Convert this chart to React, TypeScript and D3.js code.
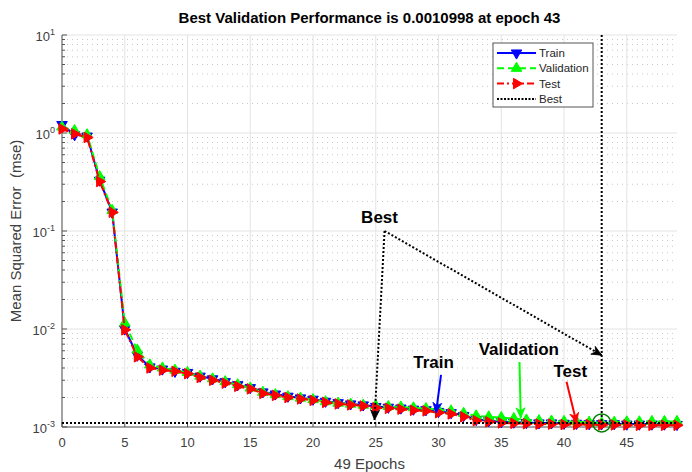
import React, { useRef, useEffect } from 'react'
import * as d3 from 'd3'

const epochs = d3.range(0, 50)

const trainPerf = [
  1.22, 0.96, 0.93, 0.33, 0.156, 0.0100, 0.0054, 0.0041, 0.0039, 0.0037,
  0.0036, 0.0033, 0.0031, 0.0029, 0.0027, 0.00252, 0.00228, 0.00217, 0.00206, 0.00198,
  0.00192, 0.00183, 0.00177, 0.00172, 0.00168, 0.00162, 0.00159, 0.00156, 0.00152, 0.00150,
  0.00144, 0.00140, 0.00131, 0.00119, 0.00116, 0.00113, 0.00112, 0.00111, 0.00110, 0.00110,
  0.00109, 0.00109, 0.00108, 0.00108, 0.00108, 0.00107, 0.00107, 0.00107, 0.00107, 0.00106,
]
const valPerf = [
  1.15, 1.06, 0.96, 0.36, 0.162, 0.0115, 0.0061, 0.0043, 0.0040, 0.0038,
  0.0036, 0.0033, 0.0031, 0.0029, 0.0027, 0.00250, 0.00226, 0.00214, 0.00204, 0.00197,
  0.00190, 0.00181, 0.00175, 0.00171, 0.00167, 0.00165, 0.00162, 0.00160, 0.00157, 0.00154,
  0.00150, 0.00146, 0.00138, 0.00130, 0.00127, 0.00125, 0.00122, 0.00118, 0.00116, 0.00115,
  0.00114, 0.00113, 0.00112, 0.0010998, 0.00112, 0.00113, 0.00113, 0.00114, 0.00114, 0.00114,
]
const testPerf = [
  1.10, 0.98, 0.90, 0.32, 0.155, 0.0098, 0.0052, 0.0040, 0.0038, 0.0037,
  0.0035, 0.0032, 0.0030, 0.0028, 0.0026, 0.00245, 0.00220, 0.00210, 0.00200, 0.00193,
  0.00187, 0.00178, 0.00172, 0.00168, 0.00164, 0.00157, 0.00155, 0.00152, 0.00148, 0.00146,
  0.00140, 0.00136, 0.00127, 0.00116, 0.00113, 0.00110, 0.00109, 0.00108, 0.00107, 0.00107,
  0.00106, 0.00106, 0.00106, 0.00105, 0.00105, 0.00105, 0.00104, 0.00104, 0.00104, 0.00104,
]

const bestEpoch = 43
const bestPerf = 0.0010998
const xTicks = [0, 5, 10, 15, 20, 25, 30, 35, 40, 45]
const yTicks = [1e-3, 1e-2, 1e-1, 1e0, 1e1]
const yExponents = ['-3', '-2', '-1', '0', '1']

const seriesNames = ['Train', 'Validation', 'Test']
const seriesValues = [trainPerf, valPerf, testPerf]

// annotation arrows in data coords: [x0, y0, x1, y1]
const bestArrows = [
  [25.7, 0.1, 24.9, 0.00118],
  [25.7, 0.1, 43.0, 0.0054],
]
const labelArrows = [
  { text: 'Train', tx: 29.6, ty: 0.0040, from: [30.2, 0.0034], to: [29.8, 0.00140], color: '#0000ff' },
  { text: 'Validation', tx: 36.4, ty: 0.0054, from: [36.45, 0.0046], to: [36.55, 0.00124], color: '#00ff00' },
  { text: 'Test', tx: 40.5, ty: 0.0032, from: [40.2, 0.0029], to: [41.0, 0.00110], color: '#ff0000' },
]

const App = () => {
  const visEl = useRef(null)
  const width = 692
  const height = 472

  useEffect(() => {
    const root = d3.select(visEl.current)
    root.selectAll('*').remove()
    const svg = root.append('svg')
      .attr('width', width)
      .attr('height', height)
      .style('position', 'absolute')
      .style('left', 0)
      .style('top', 0)
      .style('background', '#fff')
      .style('font-family', 'Liberation Sans, Arial, sans-serif')

    const margin = { top: 35, right: 15, bottom: 45, left: 62 }
    const innerWidth = width - margin.left - margin.right
    const innerHeight = height - margin.top - margin.bottom

    const xScale = d3.scaleLinear().domain([0, 49]).range([0, innerWidth])
    const yScale = d3.scaleLog().domain([1e-3, 1e1]).range([innerHeight, 0])

    const g = svg.append('g').attr('transform', `translate(${margin.left},${margin.top})`)

    // minor grid (dotted)
    const minor = []
    for (let e = -3; e < 1; e++) for (let k = 2; k <= 9; k++) minor.push(k * Math.pow(10, e))
    g.selectAll('.minor-grid').data(minor).enter().append('line')
      .attr('x1', 0).attr('x2', innerWidth)
      .attr('y1', d => yScale(d)).attr('y2', d => yScale(d))
      .attr('stroke', '#c8c8c8').attr('stroke-width', 1).attr('stroke-dasharray', '1,4')

    // major grid
    g.selectAll('.xgrid').data(xTicks).enter().append('line')
      .attr('x1', d => xScale(d)).attr('x2', d => xScale(d))
      .attr('y1', 0).attr('y2', innerHeight)
      .attr('stroke', '#e3e3e3')
    g.selectAll('.ygrid').data(yTicks).enter().append('line')
      .attr('x1', 0).attr('x2', innerWidth)
      .attr('y1', d => yScale(d)).attr('y2', d => yScale(d))
      .attr('stroke', '#e3e3e3')

    // axes
    const axisColor = '#555'
    g.append('line').attr('x1', 0).attr('x2', innerWidth).attr('y1', innerHeight).attr('y2', innerHeight)
      .attr('stroke', axisColor)
    g.append('line').attr('x1', 0).attr('x2', 0).attr('y1', 0).attr('y2', innerHeight)
      .attr('stroke', axisColor)
    g.selectAll('.xtick').data(xTicks).enter().append('line')
      .attr('x1', d => xScale(d)).attr('x2', d => xScale(d))
      .attr('y1', innerHeight).attr('y2', innerHeight - 5).attr('stroke', axisColor)
    g.selectAll('.ytick').data(yTicks).enter().append('line')
      .attr('x1', 0).attr('x2', 5)
      .attr('y1', d => yScale(d)).attr('y2', d => yScale(d)).attr('stroke', axisColor)
    g.selectAll('.yminortick').data(minor).enter().append('line')
      .attr('x1', 0).attr('x2', 3)
      .attr('y1', d => yScale(d)).attr('y2', d => yScale(d)).attr('stroke', axisColor)

    g.selectAll('.xlabel').data(xTicks).enter().append('text')
      .attr('x', d => xScale(d)).attr('y', innerHeight + 20)
      .attr('text-anchor', 'middle').attr('font-size', 13).attr('fill', '#404040')
      .text(d => d)
    const yl = g.selectAll('.ylabel').data(yTicks).enter().append('text')
      .attr('x', -7).attr('y', d => yScale(d) + 6)
      .attr('text-anchor', 'end').attr('font-size', 13).attr('fill', '#404040')
    yl.append('tspan').text('10')
    yl.append('tspan').attr('dy', -6).attr('font-size', 9).text((d, i) => yExponents[i])

    g.append('text')
      .attr('x', innerWidth / 2).attr('y', innerHeight + 42)
      .attr('text-anchor', 'middle').attr('font-size', 15).attr('fill', '#404040')
      .text('49 Epochs')
    g.append('text')
      .attr('transform', `translate(${-41},${innerHeight / 2}) rotate(-90)`)
      .attr('text-anchor', 'middle').attr('font-size', 15).attr('fill', '#404040')
      .style('white-space', 'pre')
      .text('Mean Squared Error  (mse)')
    g.append('text')
      .attr('x', innerWidth / 2).attr('y', -12)
      .attr('text-anchor', 'middle').attr('font-size', 15).attr('font-weight', 'bold').attr('fill', '#000')
      .text(`Best Validation Performance is ${bestPerf} at epoch ${bestEpoch}`)

    // series
    const styles = [
      { color: '#0000ff', dash: null, rot: 180 },
      { color: '#00ff00', dash: '7,4', rot: 0 },
      { color: '#ff0000', dash: '7,3,2,3', rot: 90 },
    ]
    const tri = d3.symbol(d3.symbolTriangle, 48)
    seriesValues.forEach((vals, si) => {
      const st = styles[si]
      const line = d3.line().x(d => xScale(d[0])).y(d => yScale(d[1]))
      const pts = epochs.map((e, i) => [e, vals[i]])
      g.append('path').datum(pts)
        .attr('d', line).attr('fill', 'none')
        .attr('stroke', st.color).attr('stroke-width', 2)
        .attr('stroke-dasharray', st.dash)
      g.selectAll(`.m${si}`).data(pts).enter().append('path')
        .attr('d', tri)
        .attr('transform', d => `translate(${xScale(d[0])},${yScale(d[1])}) rotate(${st.rot})`)
        .attr('fill', st.color).attr('stroke', st.color).attr('stroke-width', 1)
    })

    // best lines
    g.append('line')
      .attr('x1', 0).attr('x2', innerWidth)
      .attr('y1', yScale(bestPerf)).attr('y2', yScale(bestPerf))
      .attr('stroke', '#000').attr('stroke-width', 2).attr('stroke-dasharray', '2,2')
    g.append('line')
      .attr('x1', xScale(bestEpoch)).attr('x2', xScale(bestEpoch))
      .attr('y1', 0).attr('y2', innerHeight)
      .attr('stroke', '#000').attr('stroke-width', 2).attr('stroke-dasharray', '2,2')
    g.append('circle')
      .attr('cx', xScale(bestEpoch)).attr('cy', yScale(bestPerf)).attr('r', 9)
      .attr('fill', 'none').attr('stroke', '#008000').attr('stroke-width', 1.5)

    // arrows
    const arrowHead = (x0, y0, x1, y1, color) => {
      const a = Math.atan2(y1 - y0, x1 - x0)
      const L = 10, W = 4.5, N = 7
      const bx = x1 - L * Math.cos(a), by = y1 - L * Math.sin(a)
      const nx = x1 - N * Math.cos(a), ny = y1 - N * Math.sin(a)
      const px = -Math.sin(a) * W, py = Math.cos(a) * W
      g.append('path')
        .attr('d', `M${x1},${y1}L${bx + px},${by + py}L${nx},${ny}L${bx - px},${by - py}Z`)
        .attr('fill', color).attr('stroke', color).attr('stroke-width', 0.8)
    }
    bestArrows.forEach(a => {
      const x0 = xScale(a[0]), y0 = yScale(a[1]), x1 = xScale(a[2]), y1 = yScale(a[3])
      g.append('line').attr('x1', x0).attr('y1', y0).attr('x2', x1).attr('y2', y1)
        .attr('stroke', '#000').attr('stroke-width', 2).attr('stroke-dasharray', '2,2')
      arrowHead(x0, y0, x1, y1, '#000')
    })
    g.append('text')
      .attr('x', xScale(25.3)).attr('y', yScale(0.121))
      .attr('text-anchor', 'middle').attr('font-size', 17).attr('font-weight', 'bold')
      .text('Best')
    labelArrows.forEach(a => {
      const x0 = xScale(a.from[0]), y0 = yScale(a.from[1]), x1 = xScale(a.to[0]), y1 = yScale(a.to[1])
      g.append('line').attr('x1', x0).attr('y1', y0).attr('x2', x1).attr('y2', y1)
        .attr('stroke', a.color).attr('stroke-width', 2)
      arrowHead(x0, y0, x1, y1, a.color)
      g.append('text')
        .attr('x', xScale(a.tx)).attr('y', yScale(a.ty))
        .attr('text-anchor', 'middle').attr('font-size', 17).attr('font-weight', 'bold')
        .text(a.text)
    })

    // legend
    const lg = svg.append('g').attr('transform', 'translate(493,43)')
    lg.append('rect').attr('width', 100).attr('height', 64)
      .attr('fill', '#fff').attr('stroke', '#555').attr('stroke-width', 1)
    const legendItems = [...seriesNames, 'Best']
    legendItems.forEach((name, i) => {
      const y = 10 + i * 15.3
      const st = styles[i]
      if (st) {
        lg.append('line').attr('x1', 4).attr('x2', 43).attr('y1', y).attr('y2', y)
          .attr('stroke', st.color).attr('stroke-width', 2).attr('stroke-dasharray', st.dash)
        lg.append('path').attr('d', tri)
          .attr('transform', `translate(23.5,${y}) rotate(${st.rot})`)
          .attr('fill', st.color).attr('stroke', st.color)
      } else {
        lg.append('line').attr('x1', 4).attr('x2', 43).attr('y1', y).attr('y2', y)
          .attr('stroke', '#000').attr('stroke-width', 2).attr('stroke-dasharray', '2,1.5')
      }
      lg.append('text').attr('x', 46).attr('y', y + 4)
        .attr('font-size', 11.5).attr('fill', '#262626').text(name)
    })
  }, [])

  return (
    <div>
      <div ref={visEl}></div>
    </div>
  )
}

export default App
